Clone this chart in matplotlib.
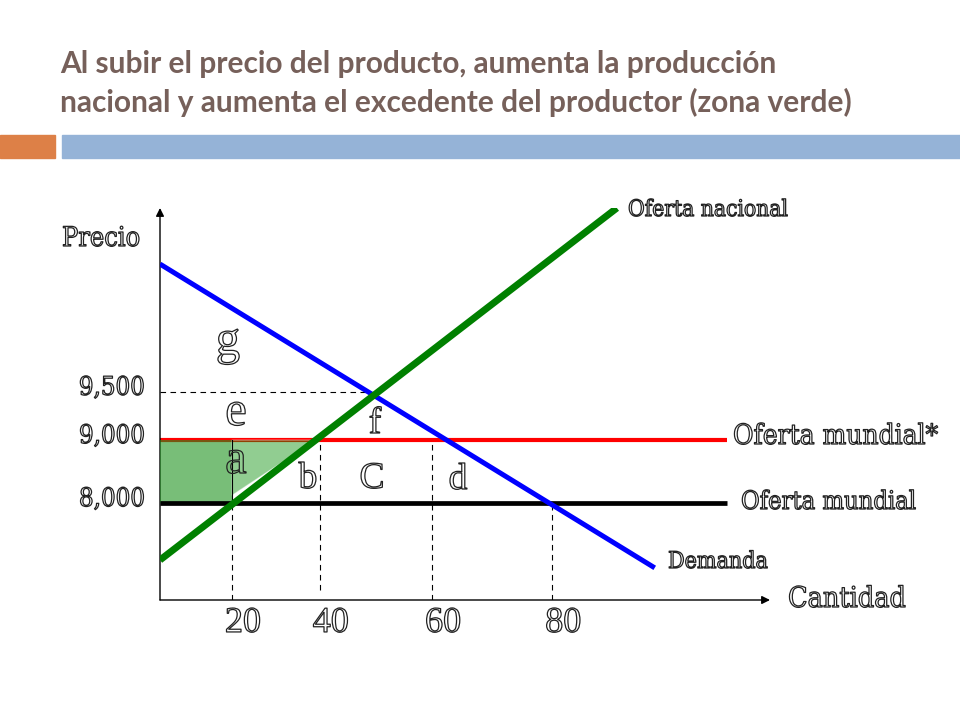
import numpy as np
import matplotlib
matplotlib.use("Agg")
import matplotlib.pyplot as plt
from matplotlib import patheffects, font_manager
from matplotlib.patches import Rectangle, Polygon
from matplotlib.transforms import ScaledTranslation

# schematic units: x = quantity axis, y = price axis (both 0..100 across the plot box)
q_labels = ["20", "40", "60", "80"]
q_marks = [11.8, 26.2, 44.6, 64.3]
p_labels = ["8,000", "9,000", "9,500"]
p_marks = [24.7, 40.8, 53.1]

demand_q = [0, 81.1]
demand_p = [85.7, 8.2]
supply_q = [0, 74.9]
supply_p = [10.2, 100]
world_q = [0, 93.0]

p_world, p_star, p_high = p_marks
q20, q40, q60, q80 = q_marks


def pick_condensed():
    # look for any narrow / condensed face that happens to be installed
    found = []
    for f in font_manager.fontManager.ttflist:
        tag = (f.name + " " + str(f.stretch)).lower()
        if ("condensed" in tag or "narrow" in tag) and f.style == "normal" \
                and f.weight in (400, "normal", "regular", "book"):
            found.append(f)
    found.sort(key=lambda f: (0 if "serif" in f.name.lower() else 1, f.name))
    if found:
        return font_manager.FontProperties(fname=found[0].fname)
    return font_manager.FontProperties(family="Liberation Serif")


narrow = pick_condensed()
serif = "Liberation Serif"
hollow = [patheffects.Stroke(linewidth=0.9, foreground="#222222")]


def supply_at(p):
    return np.interp(p, supply_p, supply_q)


def demand_at(p):
    return np.interp(p, demand_p[::-1], demand_q[::-1])


fig = plt.figure(figsize=(9.6, 7.2), dpi=100)
fig.patch.set_facecolor("white")

# title and header bars
title_color = "#76605a"
fig.text(60 / 960, 1 - 73 / 720, "Al subir el precio del producto, aumenta la producción",
         fontsize=21.5, fontweight="bold", family="Lato", color=title_color, va="baseline")
fig.text(60 / 960, 1 - 112 / 720, "nacional y aumenta el excedente del productor (zona verde)",
         fontsize=21.5, fontweight="bold", family="Lato", color=title_color, va="baseline")
fig.patches.append(Rectangle((0, 1 - 158 / 720), 55 / 960, 23 / 720,
                             transform=fig.transFigure, color="#dd8047", zorder=0))
fig.patches.append(Rectangle((62 / 960, 1 - 158 / 720), 898 / 960, 23 / 720,
                             transform=fig.transFigure, color="#95b3d7", zorder=0))

ax = fig.add_axes([160 / 960, 120 / 720, 610 / 960, 392 / 720])
ax.set_xlim(0, 100)
ax.set_ylim(0, 100)
for s in ax.spines.values():
    s.set_visible(False)
ax.patch.set_alpha(0)

# axis arrows
arrow = dict(arrowstyle="-|>", color="black", lw=1.0, mutation_scale=12, shrinkA=0, shrinkB=0)
ax.annotate("", xy=(0, 1), xytext=(0, 0), xycoords="axes fraction", arrowprops=arrow)
ax.annotate("", xy=(1, 0), xytext=(0, 0), xycoords="axes fraction", arrowprops=arrow)

# producer surplus area
ax.add_patch(Rectangle((0, p_world), q20, p_star - p_world,
                       facecolor="#1e931e", alpha=0.6, edgecolor="none", zorder=3))
ax.add_patch(Polygon([(q20, p_star), (supply_at(p_star), p_star), (q20, p_world + 2)],
                     facecolor="#0b900b", alpha=0.45, edgecolor="white", lw=0.8, zorder=3))

# price lines
ax.plot(world_q, [p_star, p_star], color="#ff0000", lw=3.0, zorder=2, solid_capstyle="butt")
ax.plot(world_q, [p_world, p_world], color="black", lw=3.4, zorder=4, solid_capstyle="butt")

# dashed guides
dash = dict(color="black", lw=0.8, ls=(0, (5, 4)), zorder=1)
ax.plot([0, demand_at(p_high)], [p_high, p_high], **dash)
ax.plot([q20, q20], [0, p_world], **dash)
ax.plot([q40, q40], [2.6, p_star], **dash)
ax.plot([q60, q60], [0, p_star], **dash)
ax.plot([q80, q80], [0, p_world], **dash)
ax.plot([q20, q20], [p_world, p_star], color="black", lw=0.8, zorder=4)

# curves
ax.plot(demand_q, demand_p, color="#0000ff", lw=3.6, zorder=5, solid_capstyle="butt")
ax.plot(supply_q, supply_p, color="#008000", lw=5.0, zorder=6, solid_capstyle="butt")

# ticks
ax.set_xticks(q_marks, q_labels)
ax.set_yticks(p_marks, p_labels)
ax.tick_params(length=0, labelcolor="none")
ax.tick_params(axis="x", pad=5)
ax.tick_params(axis="y", pad=11)
for lbl in ax.get_xticklabels():
    lbl.set_family(serif)
    lbl.set_fontsize(26)
    lbl.set_path_effects(hollow)
    lbl.set_transform(lbl.get_transform() + ScaledTranslation(0.11, 0, fig.dpi_scale_trans))
for lbl in ax.get_yticklabels():
    lbl.set_fontproperties(narrow)
    lbl.set_fontsize(20)
    lbl.set_path_effects(hollow)
    lbl.set_transform(lbl.get_transform() + ScaledTranslation(0, 0.07, fig.dpi_scale_trans))

# area letters (pixel position, baseline)
letters = [("g", 228, 354, 35), ("e", 236, 425, 35), ("a", 236, 473, 35),
           ("f", 375, 433, 27), ("b", 308, 488, 27), ("C", 372, 488, 27), ("d", 458, 489, 27)]
for ch, x, y, fs in letters:
    fig.text(x / 960, 1 - y / 720, ch, fontsize=fs, family=serif, color="none",
             ha="center", va="baseline", path_effects=hollow, zorder=10)

# curve and axis names: (text, left px, baseline px, width px in the slide)
names = [("Precio", 62, 246, 78), ("Oferta nacional", 628, 216, 160),
         ("Oferta mundial*", 733, 444, 205), ("Oferta mundial", 741, 509, 175),
         ("Demanda", 668, 568, 100), ("Cantidad", 788, 607, 118)]
name_texts = []
for txt, x, y, w in names:
    t = fig.text(x / 960, 1 - y / 720, txt, fontproperties=narrow, fontsize=20, color="none",
                 ha="left", va="baseline", path_effects=hollow)
    name_texts.append((t, w))

# fit the condensed labels to roughly the widths they take on the slide
fig.canvas.draw()
renderer = fig.canvas.get_renderer()
for t, w in name_texts:
    cur = t.get_window_extent(renderer).width
    t.set_fontsize(t.get_fontsize() * w / cur)
ylbls = ax.get_yticklabels()
cur = max(l.get_window_extent(renderer).width for l in ylbls)
for l in ylbls:
    l.set_fontsize(l.get_fontsize() * 66 / cur)

fig.savefig("out.png", dpi=100)
